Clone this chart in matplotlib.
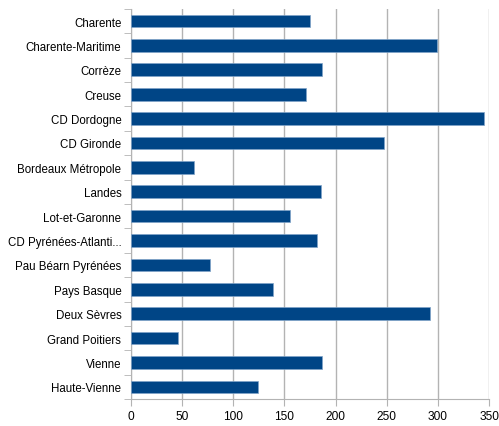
import matplotlib.pyplot as plt
import numpy as np

categories = [
    "Charente", "Charente-Maritime", "Corrèze", "Creuse", "CD Dordogne",
    "CD Gironde", "Bordeaux Métropole", "Landes", "Lot-et-Garonne",
    "CD Pyrénées-Atlanti...", "Pau Béarn Pyrénées", "Pays Basque",
    "Deux Sèvres", "Grand Poitiers", "Vienne", "Haute-Vienne",
]
values = [175, 299, 187, 171, 345, 247, 62, 186, 155, 182, 77, 139, 292, 46, 187, 124]
x_ticks = [0, 50, 100, 150, 200, 250, 300, 350]

plt.rcParams["font.family"] = ["Liberation Sans", "DejaVu Sans"]

fig = plt.figure(figsize=(4.99, 4.27), dpi=100)
ax = fig.add_axes([0.2625, 0.063, 0.7175, 0.914])

y = np.arange(len(categories))
ax.barh(y, values, height=0.52, color="#004586", edgecolor="#7fa3c8", linewidth=0.5, zorder=3)

ax.set_xlim(0, 350)
ax.set_ylim(len(categories) - 0.5, -0.5)
ax.set_xticks(x_ticks)
ax.set_yticks(y)
ax.set_yticklabels(categories)
ax.set_yticks(np.arange(-0.5, len(categories), 1), minor=True)

ax.grid(axis="x", color="#b3b3b3", linewidth=1, zorder=0)
ax.tick_params(axis="y", which="major", length=0, labelsize=8.3, pad=7)
ax.tick_params(axis="y", which="minor", length=5, color="#b3b3b3")
ax.tick_params(axis="x", length=5, color="#b3b3b3", labelsize=8.6, pad=3)

for side in ["top", "right"]:
    ax.spines[side].set_visible(False)
for side in ["left", "bottom"]:
    ax.spines[side].set_color("#b3b3b3")

plt.savefig("out.png", dpi=100)
